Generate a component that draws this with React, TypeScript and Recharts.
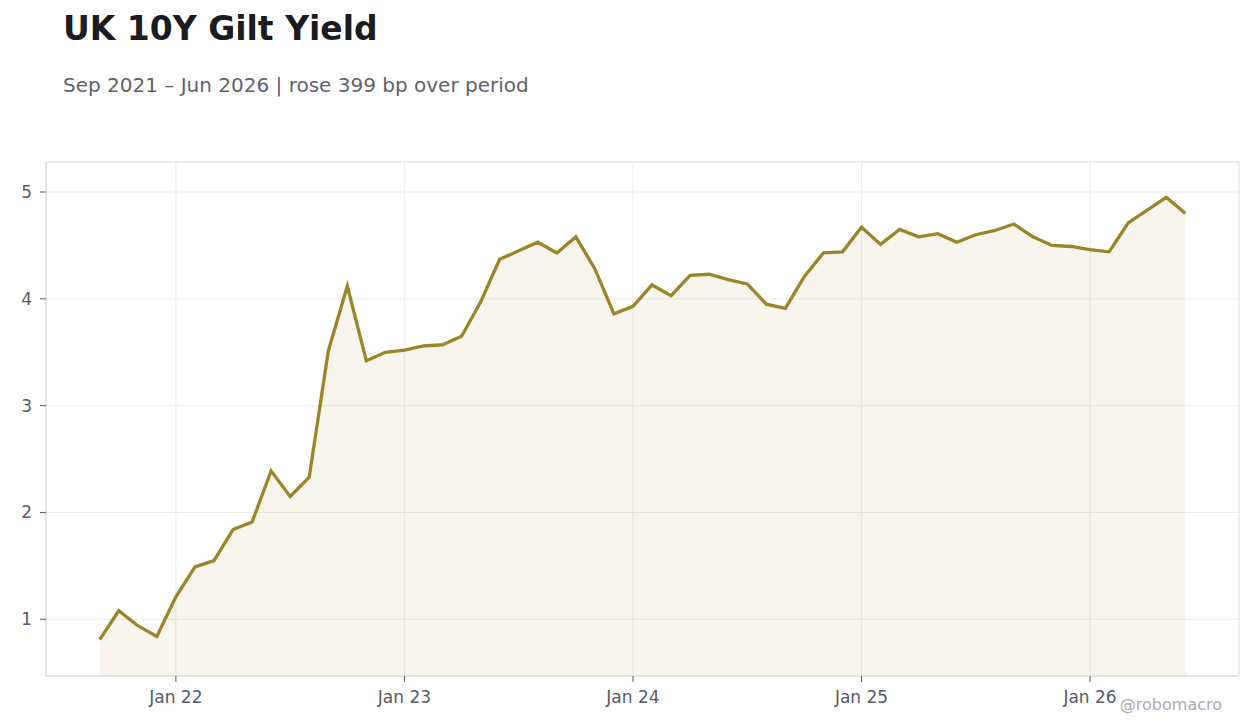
import React from "react";
import { ComposedChart, Area, XAxis, YAxis, CartesianGrid, ReferenceArea } from "recharts";

const months = [
  "Sep 21","Oct 21","Nov 21","Dec 21","Jan 22","Feb 22","Mar 22","Apr 22","May 22","Jun 22","Jul 22","Aug 22",
  "Sep 22","Oct 22","Nov 22","Dec 22","Jan 23","Feb 23","Mar 23","Apr 23","May 23","Jun 23","Jul 23","Aug 23",
  "Sep 23","Oct 23","Nov 23","Dec 23","Jan 24","Feb 24","Mar 24","Apr 24","May 24","Jun 24","Jul 24","Aug 24",
  "Sep 24","Oct 24","Nov 24","Dec 24","Jan 25","Feb 25","Mar 25","Apr 25","May 25","Jun 25","Jul 25","Aug 25",
  "Sep 25","Oct 25","Nov 25","Dec 25","Jan 26","Feb 26","Mar 26","Apr 26","May 26","Jun 26",
];

const yields = [
  0.81, 1.08, 0.94, 0.84, 1.21, 1.49, 1.55, 1.84, 1.91, 2.39, 2.15, 2.33,
  3.51, 4.12, 3.42, 3.50, 3.52, 3.56, 3.57, 3.65, 3.97, 4.37, 4.45, 4.53,
  4.43, 4.58, 4.28, 3.86, 3.93, 4.13, 4.03, 4.22, 4.23, 4.18, 4.14, 3.95,
  3.91, 4.21, 4.43, 4.44, 4.67, 4.51, 4.65, 4.58, 4.61, 4.53, 4.60, 4.64,
  4.70, 4.58, 4.50, 4.49, 4.46, 4.44, 4.71, 4.83, 4.95, 4.80,
];

const xTickIndex = [4, 16, 28, 40, 52];
const xTickLabels = ["Jan 22", "Jan 23", "Jan 24", "Jan 25", "Jan 26"];
const yTicks = [1, 2, 3, 4, 5];

const X_DOMAIN: [number, number] = [-2.82, 59.82];
const Y_DOMAIN: [number, number] = [0.469, 5.281];

const data = months.map((m, i) => ({ idx: i, month: m, value: yields[i] }));

const FONT = "'DejaVu Sans', Verdana, sans-serif";
const LINE = "#9b8529";

export default function App() {
  return (
    <div style={{ position: "absolute", left: 0, top: 0, width: 1260, height: 728, background: "#fff", fontFamily: FONT }}>
      <ComposedChart
        width={1260}
        height={728}
        data={data}
        margin={{ top: 162, right: 21, bottom: 0, left: 0 }}
      >
        <CartesianGrid stroke="#ededed" strokeWidth={1} horizontalValues={yTicks} verticalValues={xTickIndex} />
        <ReferenceArea
          x1={X_DOMAIN[0]}
          x2={X_DOMAIN[1]}
          y1={Y_DOMAIN[0]}
          y2={Y_DOMAIN[1]}
          fill="none"
          stroke="#dddddf"
          strokeWidth={1}
          ifOverflow="visible"
        />
        <XAxis
          dataKey="idx"
          type="number"
          domain={X_DOMAIN}
          ticks={xTickIndex}
          tickFormatter={(v: number) => xTickLabels[xTickIndex.indexOf(v)] ?? ""}
          height={52}
          allowDataOverflow
          axisLine={{ stroke: "#dddddf" }}
          tickLine={{ stroke: "#555a66" }}
          tickSize={6}
          tickMargin={9}
          tick={{ fill: "#565a66", fontSize: 17, fontFamily: FONT }}
        />
        <YAxis
          type="number"
          domain={Y_DOMAIN}
          ticks={yTicks}
          width={46}
          allowDataOverflow
          axisLine={{ stroke: "#dddddf" }}
          tickLine={{ stroke: "#555a66" }}
          tickSize={6}
          tickMargin={8}
          tick={{ fill: "#565a66", fontSize: 17, fontFamily: FONT }}
        />
        <Area
          type="linear"
          dataKey="value"
          stroke={LINE}
          strokeWidth={3.3}
          fill={LINE}
          fillOpacity={0.08}
          dot={false}
          activeDot={false}
          isAnimationActive={false}
        />
      </ComposedChart>
      <svg width={1260} height={728} style={{ position: "absolute", left: 0, top: 0, pointerEvents: "none" }}>
        <text x={63} y={40} fontFamily={FONT} fontSize={33} fontWeight="bold" fill="#1b1b20">
          UK 10Y Gilt Yield
        </text>
        <text x={63} y={92} fontFamily={FONT} fontSize={20} fill="#60626b">
          Sep 2021 – Jun 2026 | rose 399 bp over period
        </text>
        <text x={1222} y={710} textAnchor="end" fontFamily={FONT} fontSize={16} fill="#ababb0">
          @robomacro
        </text>
      </svg>
    </div>
  );
}
